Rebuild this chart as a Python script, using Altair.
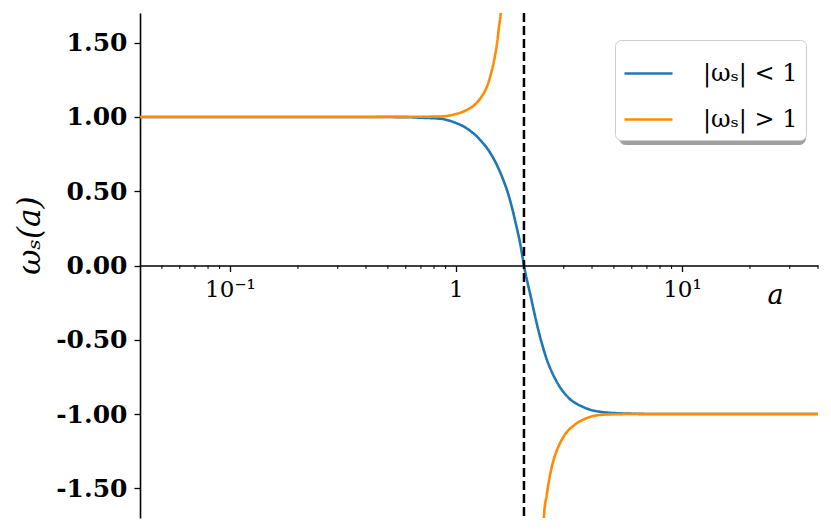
import altair as alt
import pandas as pd

# ---- data ----
labels = ["|ωₛ| < 1", "|ωₛ| > 1"]
shadow_keys = ["s1", "s2"]
colors = ["#1f77b4", "#ff8c00"]

blue_a = [0.04, 0.3, 0.6, 0.697, 0.855, 0.979, 1.122, 1.285, 1.424, 1.577, 1.717,
          1.838, 1.935, 2.0, 2.143, 2.295, 2.498, 2.766, 3.168, 3.634, 4.305, 5.469, 8.0, 40.0]
blue_w = [1.0, 1.0, 0.999, 0.995, 0.988, 0.965, 0.921, 0.843, 0.754, 0.620, 0.464,
          0.286, 0.129, 0.0, -0.209, -0.411, -0.613, -0.771, -0.894, -0.951, -0.984, -0.996, -1.0, -1.0]

orange_hi_a = [0.04, 0.3, 0.6, 0.855, 0.979, 1.103, 1.222, 1.308, 1.377, 1.434, 1.484,
               1.525, 1.556, 1.577, 1.600]
orange_hi_w = [1.0, 1.0, 1.001, 1.003, 1.017, 1.043, 1.088, 1.144, 1.211, 1.30, 1.40,
               1.512, 1.623, 1.69, 1.80]
orange_lo_a = [2.43, 2.455, 2.523, 2.610, 2.719, 2.861, 3.064, 3.336, 3.758, 4.236, 4.852,
               6.0, 8.0, 40.0]
orange_lo_w = [-1.80, -1.677, -1.543, -1.409, -1.298, -1.209, -1.130, -1.075, -1.030, -1.008,
               -1.002, -1.0, -1.0, -1.0]

singular_a = [2.0]
major_ticks = [0.1, 1, 10]
minor_ticks = [0.05, 0.06, 0.07, 0.08, 0.09, 0.2, 0.3, 0.4, 0.5, 0.6, 0.7, 0.8, 0.9,
               2, 3, 4, 5, 6, 7, 8, 9, 20, 30, 40]
y_ticks = [-1.5, -1.0, -0.5, 0.0, 0.5, 1.0, 1.5]

# ---- tables ----
df_blue = pd.DataFrame({"a": blue_a, "w": blue_w, "series": labels[0],
                        "shadow": shadow_keys[0], "branch": "b"})
df_orange = pd.concat([
    pd.DataFrame({"a": orange_hi_a, "w": orange_hi_w, "series": labels[1],
                  "shadow": shadow_keys[1], "branch": "hi"}),
    pd.DataFrame({"a": orange_lo_a, "w": orange_lo_w, "series": labels[1],
                  "shadow": shadow_keys[1], "branch": "lo"}),
])
df_sing = pd.DataFrame({"a": singular_a})
df_minor = pd.DataFrame({"a": minor_ticks})

W, H = 678, 505
SERIF = "DejaVu Serif"

xscale = alt.Scale(type="log", domain=[0.04, 40], nice=False)
yscale = alt.Scale(domain=[-1.7, 1.7], nice=False, zero=False)

xaxis = alt.Axis(
    values=major_ticks,
    labelExpr="datum.value < 0.5 ? '10⁻¹' : (datum.value < 5 ? '1' : '10¹')",
    offset=-H / 2, grid=False,
    tickSize=6, tickWidth=1.3, tickColor="black",
    domainColor="black", domainWidth=1.6,
    labelFont=SERIF, labelFontSize=23, labelColor="black", labelPadding=7,
    labelFlush=False, labelOverlap=False,
    title="a", titleFont=SERIF, titleFontStyle="italic", titleFontWeight="normal",
    titleFontSize=27, titleColor="black", titleX=635, titleY=38,
    titleAlign="center", titleBaseline="alphabetic",
)
yaxis = alt.Axis(
    values=y_ticks,
    labelExpr="(datum.value < 0 ? '-' : '') + format(abs(datum.value), '.2f')",
    grid=False, tickSize=6, tickWidth=1.3, tickColor="black",
    domainColor="black", domainWidth=1.6,
    labelFont=SERIF, labelFontWeight="bold", labelFontSize=25, labelColor="black",
    labelPadding=7, labelFlush=False, labelOverlap=False,
    title="ωₛ(a)", titleFont=SERIF, titleFontStyle="italic", titleFontWeight="normal",
    titleFontSize=31, titleColor="black", titleAngle=270, titleX=-110, titleY=222,
    titleAlign="center", titleBaseline="middle",
)

color_scale = alt.Scale(domain=labels, range=colors)
legend_common = dict(
    title=None, orient="none", cornerRadius=6, padding=8,
    symbolType="stroke", symbolSize=2304, symbolStrokeWidth=2.6,
    labelFont=SERIF, labelFontSize=24, rowPadding=8,
)
legend_main = alt.Legend(
    legendX=475, legendY=27, fillColor="white", strokeColor="#cccccc",
    labelColor="black", labelOffset=29, zindex=3, **legend_common,
)
# grey offset copy of the legend box acting as its drop shadow
legend_shadow = alt.Legend(
    legendX=479, legendY=31, fillColor="#a0a0a0", strokeColor="#a0a0a0",
    symbolStrokeColor="transparent", symbolOpacity=0, labelColor="transparent",
    labelExpr="' '", labelOffset=119, zindex=2, **legend_common,
)

def lines(df):
    return alt.Chart(df).mark_line(strokeWidth=2.6, clip=True, interpolate="monotone").encode(
        x=alt.X("a:Q", scale=xscale, axis=xaxis),
        y=alt.Y("w:Q", scale=yscale, axis=yaxis),
        color=alt.Color("series:N", scale=color_scale, legend=legend_main),
        strokeDash=alt.StrokeDash("shadow:N",
                                  scale=alt.Scale(domain=shadow_keys, range=[[1, 0], [1, 0]]),
                                  legend=legend_shadow),
        detail="branch:N",
    )

blue = lines(df_blue)
orange = lines(df_orange)

sing = alt.Chart(df_sing).mark_rule(color="black", strokeWidth=2.5, strokeDash=[9, 4]).encode(
    x=alt.X("a:Q", scale=xscale, axis=xaxis)
)
minor = alt.Chart(df_minor).mark_rule(color="black", strokeWidth=1).encode(
    x=alt.X("a:Q", scale=xscale, axis=xaxis),
    y=alt.value(H / 2),
    y2=alt.value(H / 2 + 3.5),
)

chart = alt.layer(blue, orange, sing, minor).properties(
    width=W, height=H,
    autosize=alt.AutoSizeParams(type="none"),
    padding={"left": 132, "top": 5, "right": 5, "bottom": 6},
    background="white",
).configure_view(stroke=None)

chart.save("out.html", embed_options={"renderer": "svg", "actions": False})
